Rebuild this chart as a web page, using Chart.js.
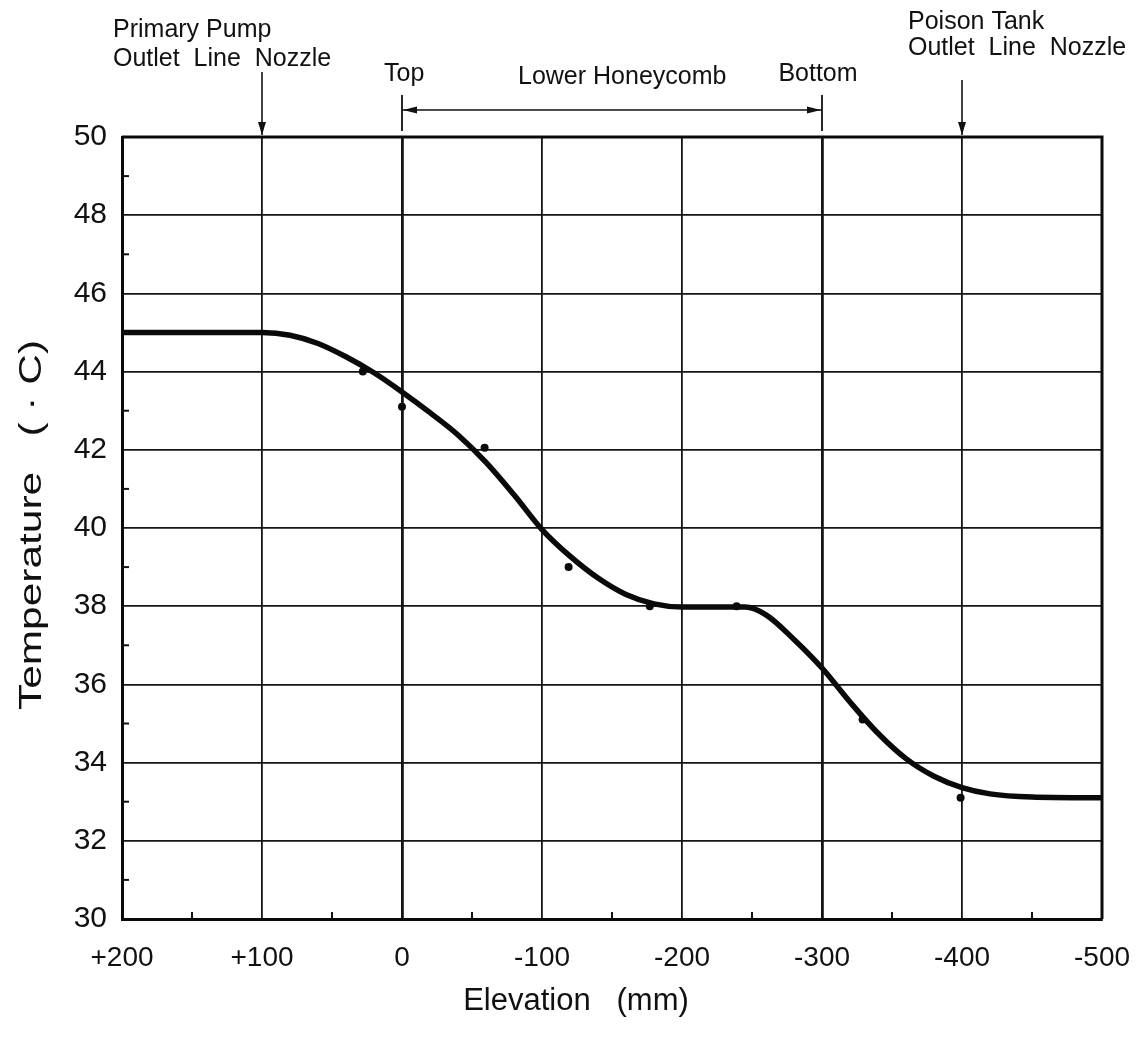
<!DOCTYPE html>
<html>
<head>
<meta charset="utf-8">
<script src="https://cdn.jsdelivr.net/npm/chart.js@4"></script>
<style>
  body { margin: 0; background: #fff; }
  #wrap { width: 1148px; height: 1043px; position: relative; }
</style>
</head>
<body>
<div id="wrap"><canvas id="chart"></canvas></div>
<script>
// elevation (mm) / temperature (C)
const curveX = [200, 100, 80, 60, 40, 20, 0, -20, -40, -60, -80, -100, -120, -140, -160, -180, -200, -245, -260, -280, -300, -320, -340, -360, -380, -400, -420, -450, -500];
const curveY = [45, 45, 44.93, 44.72, 44.38, 43.97, 43.48, 42.95, 42.38, 41.68, 40.85, 39.96, 39.28, 38.72, 38.3, 38.06, 37.98, 37.98, 37.78, 37.15, 36.42, 35.55, 34.75, 34.1, 33.65, 33.36, 33.2, 33.12, 33.1];

// measured points
const dotX = [28, 0, -59, -119, -177, -239, -329, -399];
const dotY = [44, 43.1, 42.05, 39, 38, 38, 35.1, 33.1];

// x ticks and the marked positions above the plot
const xTicks = [200, 100, 0, -100, -200, -300, -400, -500];
const pumpNozzleX = 100;
const honeycombTopX = 0;
const honeycombBottomX = -300;
const poisonNozzleX = -400;

const FONT = '"Liberation Sans", Arial, Helvetica, sans-serif';

const extras = {
    id: 'extras',
    afterDraw(chart) {
        const c = chart.ctx;
        const xs = chart.scales.x;
        const ys = chart.scales.y;
        const area = chart.chartArea;
        c.save();
        c.fillStyle = '#111';
        c.strokeStyle = '#111';

        // minor ticks, pointing inward
        c.lineWidth = 2;
        for (let v = 31; v < 50; v += 2) {
            const py = ys.getPixelForValue(v);
            c.beginPath(); c.moveTo(area.left, py); c.lineTo(area.left + 7, py); c.stroke();
        }
        for (let v = 150; v > -500; v -= 100) {
            const px = xs.getPixelForValue(v);
            c.beginPath(); c.moveTo(px, area.bottom); c.lineTo(px, area.bottom - 7); c.stroke();
        }

        // labels above the plot
        c.font = '25px ' + FONT;
        c.textBaseline = 'alphabetic';
        c.textAlign = 'left';
        c.fillText('Primary Pump', 113, 37);
        c.fillText('Outlet  Line  Nozzle', 113, 66);
        c.fillText('Poison Tank', 908, 29);
        c.fillText('Outlet  Line  Nozzle', 908, 55);
        c.fillText('Top', 384, 81);
        c.fillText('Lower Honeycomb', 518, 84);
        c.textAlign = 'center';
        c.fillText('Bottom', 818, 81);

        function downArrow(px, y0) {
            c.lineWidth = 1.6;
            c.beginPath(); c.moveTo(px, y0); c.lineTo(px, area.top - 2); c.stroke();
            c.beginPath();
            c.moveTo(px, area.top - 2); c.lineTo(px - 4, area.top - 15); c.lineTo(px + 4, area.top - 15);
            c.closePath(); c.fill();
        }
        downArrow(xs.getPixelForValue(pumpNozzleX), 72);
        downArrow(xs.getPixelForValue(poisonNozzleX), 80);

        // Lower Honeycomb bracket
        const xt = xs.getPixelForValue(honeycombTopX);
        const xb = xs.getPixelForValue(honeycombBottomX);
        const by = 110;
        c.lineWidth = 1.8;
        c.beginPath(); c.moveTo(xt, 95); c.lineTo(xt, 131); c.stroke();
        c.beginPath(); c.moveTo(xb, 95); c.lineTo(xb, 131); c.stroke();
        c.lineWidth = 1.6;
        c.beginPath(); c.moveTo(xt, by); c.lineTo(xb, by); c.stroke();
        c.beginPath(); c.moveTo(xt + 1, by); c.lineTo(xt + 15, by - 3.5); c.lineTo(xt + 15, by + 3.5); c.closePath(); c.fill();
        c.beginPath(); c.moveTo(xb - 1, by); c.lineTo(xb - 15, by - 3.5); c.lineTo(xb - 15, by + 3.5); c.closePath(); c.fill();

        // axis titles
        c.font = '31px ' + FONT;
        c.textAlign = 'center';
        c.textBaseline = 'middle';
        c.fillText('Elevation   (mm)', 576, 1001);

        c.translate(32, 525);
        c.rotate(-Math.PI / 2);
        const yTitle = 'Temperature   ( \u00b7 C)';
        const w = c.measureText(yTitle).width;
        c.scale(370 / w, 1);
        c.fillText(yTitle, 0, 0);
        c.restore();
    }
};

// top and right frame lines
const frame = {
    id: 'frame',
    beforeDatasetsDraw(chart) {
        const a = chart.chartArea;
        const c = chart.ctx;
        c.save();
        c.strokeStyle = '#0a0a0a';
        c.lineWidth = 3;
        c.beginPath();
        c.moveTo(a.left, a.top); c.lineTo(a.right, a.top); c.lineTo(a.right, a.bottom);
        c.stroke();
        c.restore();
    }
};

const curveData = curveX.map((x, i) => ({ x: x, y: curveY[i] }));
const dotData = dotX.map((x, i) => ({ x: x, y: dotY[i] }));

const config = {
    type: 'line',
    data: {
        datasets: [
            {
                label: 'curve',
                data: curveData,
                borderColor: '#0a0a0a',
                borderWidth: 5.5,
                pointRadius: 0,
                cubicInterpolationMode: 'monotone',
                fill: false
            },
            {
                label: 'measured',
                data: dotData,
                showLine: false,
                pointRadius: 4,
                pointBackgroundColor: '#0a0a0a',
                pointBorderWidth: 0
            }
        ]
    },
    options: {
        responsive: true,
        maintainAspectRatio: false,
        animation: false,
        layout: { padding: { top: 137, right: 46, left: 0, bottom: 0 } },
        plugins: {
            legend: { display: false },
            tooltip: { enabled: false }
        },
        scales: {
            x: {
                type: 'linear',
                reverse: true,
                min: -500,
                max: 200,
                afterFit: s => { s.height = 124; s.paddingLeft = 0; s.paddingRight = 0; },
                afterBuildTicks: s => { s.ticks = xTicks.map(v => ({ value: v })); },
                ticks: {
                    padding: 22,
                    color: '#111',
                    font: { family: FONT, size: 28 },
                    callback: v => (v > 0 ? '+' + v : String(v))
                },
                grid: {
                    drawTicks: false,
                    color: '#151515',
                    lineWidth: ctx => (ctx.tick && (ctx.tick.value === 0 || ctx.tick.value === -300) ? 2.8 : 1.8)
                },
                border: { display: true, color: '#0a0a0a', width: 3 }
            },
            y: {
                min: 30,
                max: 50,
                afterFit: s => { s.width = 122; s.paddingTop = 0; s.paddingBottom = 0; },
                ticks: {
                    stepSize: 2,
                    padding: 15,
                    color: '#111',
                    font: { family: FONT, size: 30 }
                },
                grid: { drawTicks: false, color: '#151515', lineWidth: 1.8 },
                border: { display: true, color: '#0a0a0a', width: 3 }
            }
        }
    },
    plugins: [extras, frame]
};

const chart = new Chart(document.getElementById('chart'), config);
</script>
</body>
</html>
